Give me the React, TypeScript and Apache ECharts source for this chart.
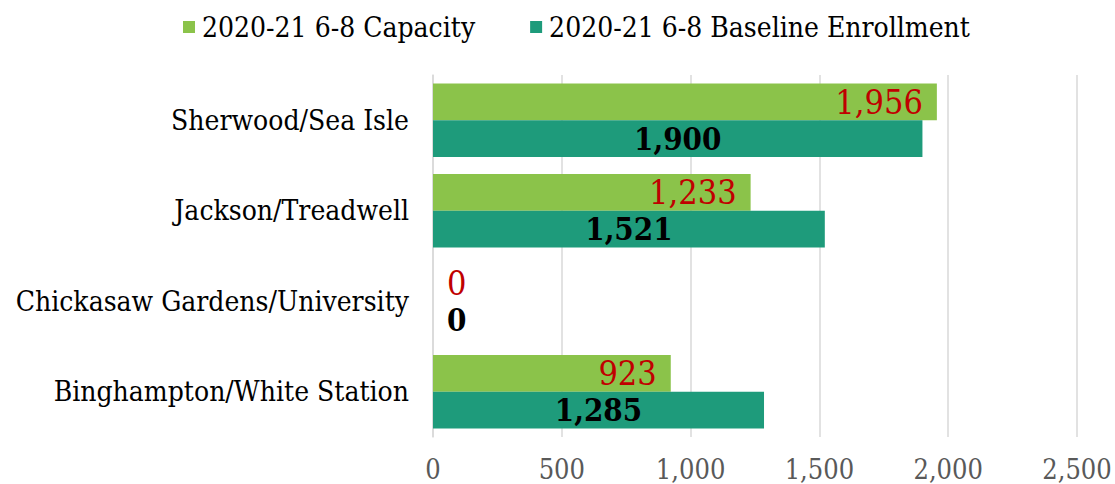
import React, { useEffect, useRef } from "react";
import * as echarts from "echarts";

const categories = [
  "Sherwood/Sea Isle",
  "Jackson/Treadwell",
  "Chickasaw Gardens/University",
  "Binghampton/White Station",
];
const capacity = [1956, 1233, 0, 923];
const enrollment = [1900, 1521, 0, 1285];
const seriesNames = ["2020-21 6-8 Capacity", "2020-21 6-8 Baseline Enrollment"];
const xTicks = { min: 0, max: 2500, interval: 500 };

const FONT = "'DejaVu Serif Condensed', 'DejaVu Serif', serif";

export default function App() {
  const ref = useRef<HTMLDivElement>(null);
  useEffect(() => {
    if (!ref.current) return;
    document.body.style.margin = "0";
    document.body.style.overflow = "hidden";
    const chart = echarts.init(ref.current, undefined, { renderer: "svg" });
    const fmt = (v: number) => v.toLocaleString("en-US");
    const zeroLabel = (color: string) => ({
      position: "right",
      distance: 14,
      color,
    });
    chart.setOption({
      animation: false,
      textStyle: { fontFamily: FONT },
      legend: {
        top: 8,
        left: 178,
        itemWidth: 12,
        itemHeight: 12,
        itemGap: 55,
        icon: "rect",
        textStyle: { fontFamily: FONT, fontSize: 28, color: "#000", padding: [0, 0, 0, 2] },
        data: seriesNames,
      },
      grid: { left: 433, right: 38, top: 75, bottom: 47, containLabel: false },
      xAxis: {
        type: "value",
        min: xTicks.min,
        max: xTicks.max,
        interval: xTicks.interval,
        axisLine: { show: false },
        axisTick: { show: false },
        splitLine: { lineStyle: { color: "#d9d9d9", width: 1.5 } },
        axisLabel: {
          fontFamily: FONT,
          fontSize: 27,
          color: "#595959",
          margin: 19,
          formatter: (v: number) => fmt(v),
        },
      },
      yAxis: {
        type: "category",
        inverse: true,
        data: categories,
        axisLine: { show: true, lineStyle: { color: "#d9d9d9", width: 1.5 } },
        axisTick: { show: false },
        axisLabel: { fontFamily: FONT, fontSize: 28, color: "#000", margin: 24 },
      },
      series: [
        {
          name: seriesNames[0],
          type: "bar",
          barGap: "0%",
          barCategoryGap: "19%",
          itemStyle: { color: "#8bc34a" },
          label: {
            show: true,
            position: "insideRight",
            distance: 14,
            color: "#c00000",
            fontFamily: FONT,
            fontSize: 34,
            formatter: (p: any) => fmt(p.value),
          },
          data: capacity.map((v) =>
            v === 0 ? { value: v, label: zeroLabel("#c00000") } : v
          ),
        },
        {
          name: seriesNames[1],
          type: "bar",
          itemStyle: { color: "#1e9b7b" },
          label: {
            show: true,
            position: "inside",
            color: "#000",
            fontWeight: "bold",
            fontFamily: FONT,
            fontSize: 31,
            formatter: (p: any) => fmt(p.value),
          },
          data: enrollment.map((v) =>
            v === 0 ? { value: v, label: zeroLabel("#000") } : v
          ),
        },
      ],
    });
    return () => chart.dispose();
  }, []);
  return <div ref={ref} style={{ width: 1115, height: 484 }} />;
}
